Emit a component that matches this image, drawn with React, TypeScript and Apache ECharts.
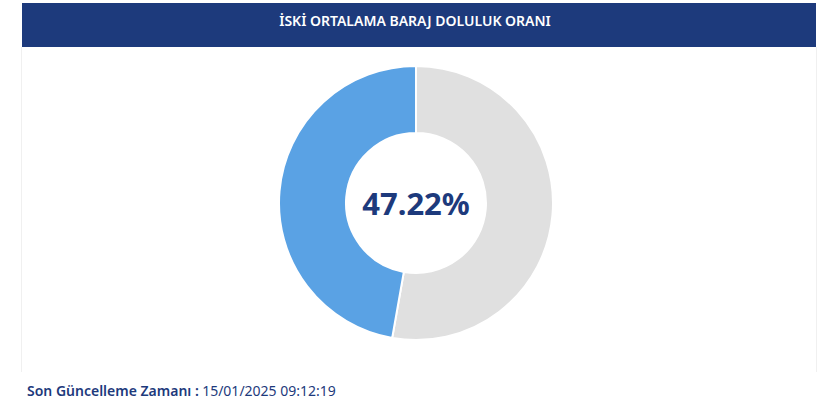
import React, { useEffect, useRef } from "react";
import * as echarts from "echarts";

const titleText = "İSKİ ORTALAMA BARAJ DOLULUK ORANI";
const sliceNames = ["Boş", "Dolu"];
const sliceValues = [52.78, 47.22];
const centerLabel = "47.22%";
const footerLabel = "Son Güncelleme Zamanı :";
const footerValue = "15/01/2025 09:12:19";

export default function App() {
  const ref = useRef<HTMLDivElement>(null);
  useEffect(() => {
    document.body.style.margin = "0";
    const chart = echarts.init(ref.current!, null, { renderer: "svg" });
    const font = "'Noto Sans', sans-serif";
    chart.setOption({
      animation: false,
      backgroundColor: "#ffffff",
      graphic: [
        { type: "line", shape: { x1: 21.5, y1: 47, x2: 21.5, y2: 372 }, style: { stroke: "#f0f0f0", lineWidth: 1 } },
        { type: "line", shape: { x1: 816.5, y1: 47, x2: 816.5, y2: 372 }, style: { stroke: "#f0f0f0", lineWidth: 1 } },
        { type: "rect", shape: { x: 22, y: 3, width: 794, height: 44 }, style: { fill: "#1d3a7c" } },
        {
          type: "text",
          x: 415,
          y: 20,
          style: {
            text: titleText,
            fill: "#ffffff",
            font: `600 14px ${font}`,
            align: "center",
            verticalAlign: "middle",
          },
        },
        {
          type: "text",
          x: 27,
          y: 390,
          style: {
            rich: {
              a: { fill: "#1d3a7c", fontWeight: 600, fontSize: 14, fontFamily: "'Noto Sans', sans-serif" },
              b: { fill: "#1d3a7c", fontWeight: 400, fontSize: 14, fontFamily: "'Noto Sans', sans-serif" },
            },
            text: `{a|${footerLabel}} {b|${footerValue}}`,
            verticalAlign: "middle",
          },
        },
      ],
      series: [
        {
          type: "pie",
          center: [416, 203],
          radius: [70, 137],
          startAngle: 90,
          clockwise: true,
          label: {
            show: true,
            position: "center",
            formatter: () => centerLabel,
            color: "#1d3a7c",
            fontSize: 31,
            fontWeight: 700,
            fontFamily: font,
          },
          labelLine: { show: false },
          emphasis: { disabled: true },
          itemStyle: { borderColor: "#ffffff", borderWidth: 2 },
          data: sliceNames.map((n, i) => ({
            name: n,
            value: sliceValues[i],
            itemStyle: { color: i === 0 ? "#e0e0e0" : "#5aa2e4" },
            label: { show: i === 0 },
          })),
        },
      ],
    });
    return () => chart.dispose();
  }, []);
  return <div ref={ref} style={{ width: 820, height: 416 }} />;
}
